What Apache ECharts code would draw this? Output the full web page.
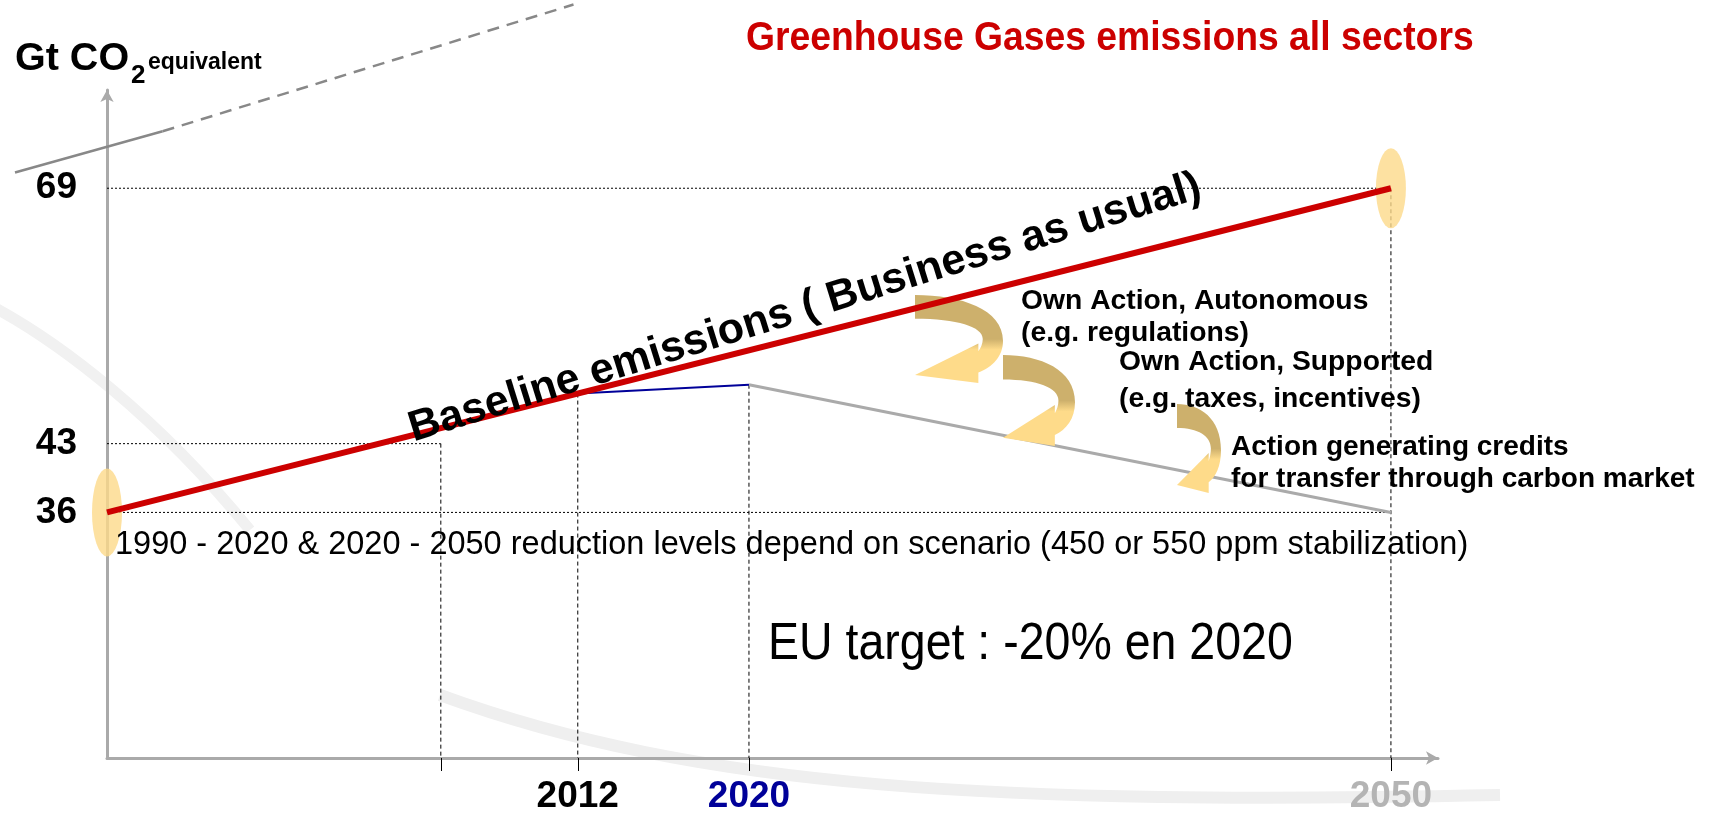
<!DOCTYPE html>
<html>
<head>
<meta charset="utf-8">
<script src="https://cdn.jsdelivr.net/npm/echarts@6/dist/echarts.min.js"></script>
<style>
html,body{margin:0;padding:0;background:#fff;}
#chart{width:1728px;height:816px;}
</style>
</head>
<body>
<div id="chart"></div>
<script>
// ---- data ----
const baselineYears = [1990, 2050];
const baselineValues = [36, 69];
const euPathYears = [2012, 2020];
const euPathValues = [48.1, 49];
const reductionYears = [2020, 2050];
const reductionValues = [49, 36];
const yTickValues = [36, 43, 69];
const xTickValues = [2005.6, 2012, 2020, 2050];
const xLabelValues = [2012, 2020, 2050];
const xLabelColors = {2012: '#000000', 2020: '#000099', 2050: '#b4b4b4'};
const guide43Year = 2005.6;
const trendSolidYears = [1985.7, 1992.6];
const trendSolidValues = [70.6, 74.8];
const trendDashYears = [1992.6, 2011.8];
const trendDashValues = [74.8, 87.7];

const FONT = '"Liberation Sans", Arial, Helvetica, sans-serif';
const pairs = (xs, ys) => xs.map((x, i) => [x, ys[i]]);
const yMin = 11, yMax = 79, xMin = 1990, xMax = 2052.2;

// curved arrow shape (unit box 0..100 scaled to w,h)
const CurvedArrow = echarts.graphic.extendShape({
  type: 'curvedArrow',
  shape: {x: 0, y: 0, w: 100, h: 100},
  buildPath: function (ctx, s) {
    const X = (v) => s.x + v * s.w / 100;
    const Y = (v) => s.y + v * s.h / 100;
    ctx.moveTo(X(0), Y(0));
    ctx.bezierCurveTo(X(52), Y(0), X(100), Y(16), X(100), Y(52));
    ctx.bezierCurveTo(X(100), Y(70), X(88), Y(82), X(72), Y(88));
    ctx.lineTo(X(72), Y(100));
    ctx.lineTo(X(0), Y(91));
    ctx.lineTo(X(72), Y(55));
    ctx.lineTo(X(72), Y(64));
    ctx.bezierCurveTo(X(75), Y(60), X(77), Y(55), X(77), Y(50));
    ctx.bezierCurveTo(X(77), Y(36), X(48), Y(27), X(0), Y(27));
    ctx.closePath();
  }
});
echarts.graphic.registerShape('curvedArrow', CurvedArrow);

const chart = echarts.init(document.getElementById('chart'));

const guideH = {type: 'line', symbol: 'none', silent: true, z: 1,
  lineStyle: {color: '#000', width: 1, type: [2, 2]}};
const guideV = {type: 'line', symbol: 'none', silent: true, z: 1,
  lineStyle: {color: '#000', width: 1, type: [4, 3]}};

function arrowEl(x, y, w, h) {
  return {
    type: 'curvedArrow', z: 5, silent: true,
    shape: {x: x, y: y, w: w, h: h},
    style: {fill: new echarts.graphic.LinearGradient(0, 0, 0, 1, [
      {offset: 0, color: '#cdb06c'}, {offset: 0.5, color: '#cdb06c'},
      {offset: 0.62, color: '#fedb8a'}, {offset: 1, color: '#fedb8a'}])}
  };
}

const option = {
  backgroundColor: '#ffffff',
  animation: false,
  grid: {left: 107, right: 290, top: 90, bottom: 58, containLabel: false},
  xAxis: {
    type: 'value', min: xMin, max: xMax,
    splitLine: {show: false},
    axisLine: {show: true, lineStyle: {color: '#aaaaaa', width: 3}, symbol: ['none', 'arrow'], symbolSize: [10, 12]},
    axisTick: {show: true, customValues: xTickValues, length: 13, lineStyle: {color: '#000', width: 1}},
    axisLabel: {show: true, customValues: xLabelValues, margin: 20,
      fontFamily: FONT, fontWeight: 'bold', fontSize: 37,
      color: (v) => xLabelColors[Math.round(v)] || '#000',
      formatter: (v) => String(Math.round(v))}
  },
  yAxis: {
    type: 'value', min: yMin, max: yMax,
    splitLine: {show: false},
    axisLine: {show: true, lineStyle: {color: '#aaaaaa', width: 3}, symbol: ['none', 'arrow'], symbolSize: [10, 12]},
    axisTick: {show: false},
    axisLabel: {show: true, customValues: yTickValues, margin: 30,
      fontFamily: FONT, fontWeight: 'bold', fontSize: 37, color: '#000'}
  },
  series: [
    Object.assign({}, guideH, {data: [[xMin, baselineValues[1]], [baselineYears[1], baselineValues[1]]]}),
    Object.assign({}, guideV, {data: [[baselineYears[1], baselineValues[1]], [baselineYears[1], yMin]]}),
    Object.assign({}, guideH, {data: [[xMin, yTickValues[1]], [guide43Year, yTickValues[1]]]}),
    Object.assign({}, guideV, {data: [[guide43Year, yTickValues[1]], [guide43Year, yMin]]}),
    Object.assign({}, guideH, {data: [[xMin, baselineValues[0]], [reductionYears[1], reductionValues[1]]]}),
    Object.assign({}, guideV, {data: [[euPathYears[0], euPathValues[0]], [euPathYears[0], yMin]]}),
    Object.assign({}, guideV, {data: [[euPathYears[1], euPathValues[1]], [euPathYears[1], yMin]]}),
    {type: 'scatter', silent: true, z: 3, itemStyle: {color: '#fdd98a'},
     symbol: 'circle', symbolSize: [30, 88], data: [[baselineYears[0], baselineValues[0]]]},
    {type: 'scatter', silent: true, z: 3, itemStyle: {color: '#fdd98a'},
     symbol: 'circle', symbolSize: [30, 80], data: [[baselineYears[1], baselineValues[1]]]},
    {type: 'line', symbol: 'none', z: 4, lineStyle: {color: '#aaaaaa', width: 3}, data: pairs(reductionYears, reductionValues)},
    {type: 'line', symbol: 'none', z: 4, lineStyle: {color: '#000099', width: 2}, data: pairs(euPathYears, euPathValues)},
    {type: 'line', symbol: 'none', z: 6, lineStyle: {color: '#cc0000', width: 6}, data: pairs(baselineYears, baselineValues)}
  ]
};
chart.setOption(option);

// decorative trend line: positioned through the chart's own scales (extends past the axes)
const toPx = (xs, ys) => xs.map((x, i) => chart.convertToPixel({gridIndex: 0}, [x, ys[i]]));
const T = (x, y, text, font, extra) => Object.assign({type: 'text', x: x, y: y, z: 10, silent: true,
  style: {text: text, font: font, fill: '#000', textVerticalAlign: 'middle'}}, extra || {});

chart.setOption({
  graphic: [
    // faint background swooshes
    {type: 'bezierCurve', z: -10, silent: true, shape: {x1: -20, y1: 300, cpx1: 60, cpy1: 340, cpx2: 160, cpy2: 420, x2: 250, y2: 530},
     style: {stroke: '#f1f1f1', lineWidth: 11, fill: null}},
    {type: 'bezierCurve', z: -10, silent: true, shape: {x1: 440, y1: 695, cpx1: 700, cpy1: 790, cpx2: 1000, cpy2: 805, x2: 1500, y2: 795},
     style: {stroke: '#efefef', lineWidth: 12, fill: null}},
    {type: 'polyline', z: 1, silent: true, shape: {points: toPx(trendSolidYears, trendSolidValues)},
     style: {stroke: '#888888', lineWidth: 2.5, fill: null}},
    {type: 'polyline', z: 1, silent: true, shape: {points: toPx(trendDashYears, trendDashValues)},
     style: {stroke: '#888888', lineWidth: 2.5, fill: null, lineDash: [12, 8]}},
    arrowEl(915, 295, 88, 88),
    arrowEl(1003, 355, 72, 91),
    arrowEl(1177, 404, 44, 89),
    T(746, 39, '', '', {scaleY: 1.08, style: {text: 'Greenhouse Gases emissions all sectors', font: 'bold 37.3px ' + FONT, fill: '#cc0000', textVerticalAlign: 'middle'}}),
    T(15, 59, 'Gt CO', 'bold 39.5px ' + FONT),
    T(131, 76, '2', 'bold 26px ' + FONT),
    T(148, 63, 'equivalent', 'bold 23px ' + FONT),
    T(805, 308, '', '',
      {rotation: 0.30, style: {text: 'Baseline emissions ( Business as usual)', font: 'bold 43px ' + FONT, fill: '#000', textAlign: 'center', textVerticalAlign: 'middle'}}),
    T(1021, 301, 'Own Action, Autonomous', 'bold 28.3px ' + FONT),
    T(1021, 333, '(e.g. regulations)', 'bold 28.3px ' + FONT),
    T(1119, 362, 'Own Action, Supported', 'bold 28.3px ' + FONT),
    T(1119, 399, '(e.g. taxes, incentives)', 'bold 28.3px ' + FONT),
    T(1231, 447, 'Action generating credits', 'bold 28px ' + FONT),
    T(1231, 479, 'for transfer through carbon market', 'bold 28px ' + FONT),
    T(115, 545, '1990 - 2020 & 2020 - 2050 reduction levels depend on scenario (450 or 550 ppm stabilization)', '32.5px ' + FONT),
    T(768, 645, 'EU target : -20% en 2020', '46.5px ' + FONT, {scaleY: 1.1})
  ]
});
</script>
</body>
</html>
